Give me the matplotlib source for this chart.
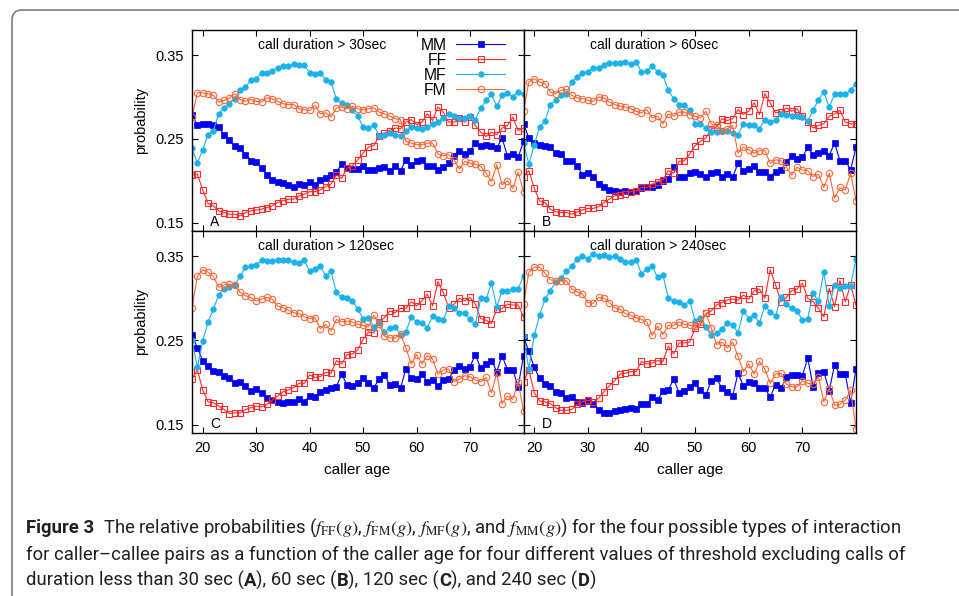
import matplotlib
matplotlib.use('Agg')
import matplotlib.pyplot as plt
from matplotlib.patches import FancyBboxPatch
from matplotlib.transforms import IdentityTransform

plt.rcParams['font.family'] = ['Liberation Sans', 'DejaVu Sans']
plt.rcParams['mathtext.fontset'] = 'stix'

# caller age (one point per year)
ages = list(range(18, 81))

# call duration > 30sec
mm_30 = [0.279, 0.266, 0.268, 0.268, 0.266, 0.264, 0.255, 0.249, 0.241, 0.239,
         0.231, 0.224, 0.222, 0.215, 0.207, 0.201, 0.199, 0.197, 0.195, 0.193,
         0.196, 0.195, 0.199, 0.195, 0.201, 0.203, 0.207, 0.210, 0.220, 0.215,
         0.214, 0.214, 0.218, 0.213, 0.213, 0.215, 0.217, 0.212, 0.218, 0.212,
         0.225, 0.219, 0.223, 0.225, 0.218, 0.218, 0.213, 0.217, 0.221, 0.230,
         0.236, 0.232, 0.236, 0.245, 0.241, 0.243, 0.242, 0.239, 0.251, 0.229,
         0.232, 0.228, 0.247]
ff_30 = [0.207, 0.208, 0.189, 0.173, 0.170, 0.164, 0.162, 0.160, 0.160, 0.158,
         0.162, 0.164, 0.165, 0.166, 0.168, 0.170, 0.174, 0.176, 0.178, 0.178,
         0.182, 0.184, 0.187, 0.187, 0.189, 0.193, 0.196, 0.207, 0.203, 0.215,
         0.218, 0.225, 0.233, 0.240, 0.242, 0.253, 0.257, 0.260, 0.263, 0.262,
         0.270, 0.273, 0.267, 0.270, 0.280, 0.272, 0.288, 0.282, 0.270, 0.270,
         0.275, 0.270, 0.276, 0.266, 0.258, 0.253, 0.258, 0.255, 0.263, 0.266,
         0.276, 0.260, 0.263]
mf_30 = [0.239, 0.221, 0.237, 0.255, 0.260, 0.280, 0.287, 0.292, 0.298, 0.308,
         0.312, 0.320, 0.322, 0.329, 0.329, 0.331, 0.335, 0.337, 0.337, 0.339,
         0.338, 0.338, 0.329, 0.328, 0.329, 0.320, 0.318, 0.298, 0.293, 0.290,
         0.284, 0.277, 0.264, 0.263, 0.266, 0.254, 0.255, 0.257, 0.255, 0.254,
         0.259, 0.264, 0.263, 0.262, 0.264, 0.268, 0.270, 0.275, 0.280, 0.277,
         0.275, 0.275, 0.277, 0.273, 0.287, 0.296, 0.303, 0.289, 0.302, 0.305,
         0.300, 0.306, 0.303]
fm_30 = [0.276, 0.305, 0.305, 0.304, 0.302, 0.294, 0.296, 0.299, 0.304, 0.297,
         0.295, 0.297, 0.295, 0.294, 0.299, 0.298, 0.295, 0.292, 0.291, 0.291,
         0.286, 0.285, 0.284, 0.290, 0.280, 0.281, 0.276, 0.287, 0.288, 0.286,
         0.289, 0.286, 0.285, 0.286, 0.287, 0.282, 0.280, 0.277, 0.274, 0.273,
         0.247, 0.245, 0.243, 0.243, 0.245, 0.245, 0.232, 0.230, 0.231, 0.225,
         0.214, 0.223, 0.221, 0.220, 0.217, 0.209, 0.199, 0.219, 0.195, 0.200,
         0.191, 0.210, 0.187]

# call duration > 60sec
mm_60 = [0.268, 0.251, 0.245, 0.243, 0.242, 0.240, 0.233, 0.232, 0.224, 0.224,
         0.218, 0.207, 0.209, 0.205, 0.196, 0.192, 0.189, 0.188, 0.187, 0.188,
         0.187, 0.188, 0.191, 0.193, 0.192, 0.195, 0.200, 0.202, 0.217, 0.205,
         0.205, 0.209, 0.211, 0.208, 0.205, 0.209, 0.211, 0.205, 0.208, 0.204,
         0.221, 0.212, 0.214, 0.218, 0.210, 0.210, 0.205, 0.211, 0.213, 0.222,
         0.230, 0.226, 0.228, 0.240, 0.231, 0.233, 0.235, 0.230, 0.245, 0.224,
         0.224, 0.213, 0.240]
ff_60 = [0.205, 0.212, 0.191, 0.176, 0.174, 0.166, 0.163, 0.162, 0.162, 0.160,
         0.163, 0.165, 0.167, 0.167, 0.169, 0.174, 0.178, 0.182, 0.183, 0.184,
         0.187, 0.188, 0.192, 0.192, 0.196, 0.199, 0.201, 0.212, 0.209, 0.223,
         0.224, 0.232, 0.242, 0.247, 0.251, 0.262, 0.264, 0.274, 0.272, 0.274,
         0.285, 0.279, 0.283, 0.293, 0.279, 0.304, 0.293, 0.281, 0.282, 0.287,
         0.283, 0.286, 0.277, 0.270, 0.263, 0.266, 0.268, 0.277, 0.280, 0.284,
         0.270, 0.268, 0.268]
mf_60 = [0.245, 0.220, 0.243, 0.264, 0.271, 0.291, 0.296, 0.302, 0.304, 0.318,
         0.324, 0.329, 0.330, 0.335, 0.335, 0.338, 0.341, 0.341, 0.341, 0.342,
         0.339, 0.342, 0.330, 0.331, 0.337, 0.330, 0.326, 0.308, 0.298, 0.291,
         0.291, 0.284, 0.268, 0.268, 0.263, 0.258, 0.258, 0.259, 0.260, 0.257,
         0.255, 0.268, 0.267, 0.266, 0.262, 0.273, 0.270, 0.272, 0.280, 0.279,
         0.277, 0.277, 0.276, 0.271, 0.284, 0.297, 0.306, 0.288, 0.303, 0.304,
         0.303, 0.308, 0.316]
fm_60 = [0.283, 0.318, 0.322, 0.318, 0.316, 0.306, 0.304, 0.308, 0.309, 0.302,
         0.299, 0.298, 0.296, 0.295, 0.300, 0.299, 0.294, 0.291, 0.289, 0.288,
         0.286, 0.283, 0.281, 0.285, 0.275, 0.277, 0.268, 0.280, 0.277, 0.282,
         0.282, 0.279, 0.277, 0.275, 0.283, 0.268, 0.266, 0.260, 0.262, 0.266,
         0.233, 0.240, 0.237, 0.233, 0.236, 0.236, 0.221, 0.225, 0.224, 0.216,
         0.207, 0.216, 0.213, 0.212, 0.205, 0.208, 0.192, 0.209, 0.179, 0.192,
         0.189, 0.209, 0.176]

# call duration > 120sec
mm_120 = [0.257, 0.241, 0.226, 0.220, 0.214, 0.212, 0.208, 0.205, 0.200, 0.201,
          0.196, 0.190, 0.192, 0.188, 0.182, 0.179, 0.177, 0.176, 0.177, 0.177,
          0.180, 0.177, 0.184, 0.183, 0.189, 0.191, 0.193, 0.195, 0.210, 0.197,
          0.196, 0.200, 0.205, 0.200, 0.194, 0.204, 0.209, 0.197, 0.198, 0.193,
          0.216, 0.205, 0.204, 0.210, 0.201, 0.203, 0.196, 0.203, 0.204, 0.215,
          0.220, 0.216, 0.219, 0.233, 0.217, 0.222, 0.226, 0.213, 0.232, 0.215,
          0.215, 0.195, 0.232]
ff_120 = [0.204, 0.215, 0.191, 0.177, 0.176, 0.172, 0.168, 0.163, 0.164, 0.164,
          0.168, 0.170, 0.172, 0.171, 0.174, 0.179, 0.184, 0.189, 0.191, 0.194,
          0.199, 0.199, 0.209, 0.206, 0.207, 0.212, 0.211, 0.226, 0.222, 0.233,
          0.234, 0.239, 0.251, 0.260, 0.259, 0.272, 0.277, 0.285, 0.283, 0.288,
          0.288, 0.296, 0.291, 0.297, 0.305, 0.291, 0.320, 0.307, 0.289, 0.293,
          0.300, 0.297, 0.301, 0.293, 0.276, 0.274, 0.270, 0.287, 0.288, 0.293,
          0.292, 0.292, 0.278]
mf_120 = [0.250, 0.218, 0.249, 0.272, 0.287, 0.304, 0.311, 0.314, 0.316, 0.326,
          0.337, 0.339, 0.340, 0.345, 0.344, 0.344, 0.346, 0.345, 0.345, 0.343,
          0.342, 0.345, 0.332, 0.335, 0.339, 0.326, 0.332, 0.307, 0.301, 0.300,
          0.297, 0.287, 0.276, 0.277, 0.266, 0.272, 0.260, 0.265, 0.266, 0.257,
          0.260, 0.278, 0.272, 0.271, 0.265, 0.279, 0.276, 0.274, 0.291, 0.289,
          0.282, 0.282, 0.275, 0.269, 0.300, 0.299, 0.318, 0.290, 0.309, 0.309,
          0.311, 0.311, 0.327]
fm_120 = [0.289, 0.326, 0.334, 0.331, 0.326, 0.313, 0.316, 0.317, 0.316, 0.307,
          0.303, 0.301, 0.297, 0.299, 0.301, 0.299, 0.291, 0.289, 0.286, 0.283,
          0.282, 0.278, 0.276, 0.277, 0.264, 0.269, 0.261, 0.275, 0.272, 0.273,
          0.272, 0.269, 0.268, 0.266, 0.280, 0.269, 0.255, 0.253, 0.253, 0.258,
          0.241, 0.222, 0.233, 0.222, 0.232, 0.228, 0.210, 0.215, 0.216, 0.201,
          0.204, 0.208, 0.207, 0.203, 0.201, 0.206, 0.188, 0.211, 0.175, 0.184,
          0.180, 0.201, 0.166]

# call duration > 240sec
mm_240 = [0.254, 0.237, 0.218, 0.205, 0.198, 0.196, 0.189, 0.187, 0.182, 0.183,
          0.177, 0.176, 0.178, 0.175, 0.167, 0.164, 0.164, 0.166, 0.167, 0.169,
          0.170, 0.168, 0.174, 0.174, 0.183, 0.179, 0.190, 0.191, 0.204, 0.188,
          0.190, 0.195, 0.199, 0.191, 0.185, 0.202, 0.205, 0.193, 0.189, 0.184,
          0.211, 0.196, 0.201, 0.199, 0.193, 0.193, 0.183, 0.197, 0.193, 0.206,
          0.209, 0.209, 0.208, 0.229, 0.195, 0.211, 0.213, 0.190, 0.221, 0.210,
          0.210, 0.176, 0.216]
ff_240 = [0.201, 0.215, 0.188, 0.178, 0.177, 0.175, 0.170, 0.167, 0.167, 0.168,
          0.174, 0.177, 0.179, 0.177, 0.181, 0.189, 0.196, 0.202, 0.210, 0.211,
          0.213, 0.213, 0.225, 0.222, 0.223, 0.226, 0.225, 0.243, 0.234, 0.247,
          0.247, 0.248, 0.265, 0.269, 0.282, 0.285, 0.292, 0.295, 0.298, 0.299,
          0.298, 0.304, 0.299, 0.309, 0.311, 0.300, 0.334, 0.316, 0.296, 0.301,
          0.309, 0.311, 0.318, 0.300, 0.296, 0.288, 0.278, 0.312, 0.290, 0.321,
          0.296, 0.316, 0.292]
mf_240 = [0.255, 0.216, 0.256, 0.280, 0.299, 0.309, 0.320, 0.324, 0.332, 0.338,
          0.347, 0.350, 0.347, 0.353, 0.350, 0.351, 0.349, 0.350, 0.347, 0.343,
          0.343, 0.346, 0.329, 0.335, 0.338, 0.325, 0.328, 0.300, 0.297, 0.296,
          0.292, 0.297, 0.273, 0.277, 0.266, 0.256, 0.259, 0.263, 0.271, 0.268,
          0.259, 0.285, 0.276, 0.280, 0.271, 0.291, 0.284, 0.279, 0.301, 0.293,
          0.288, 0.285, 0.274, 0.276, 0.306, 0.297, 0.331, 0.291, 0.316, 0.312,
          0.315, 0.315, 0.347]
fm_240 = [0.293, 0.331, 0.337, 0.337, 0.330, 0.322, 0.321, 0.321, 0.321, 0.311,
          0.308, 0.305, 0.295, 0.294, 0.301, 0.300, 0.295, 0.289, 0.287, 0.282,
          0.280, 0.277, 0.275, 0.272, 0.256, 0.267, 0.257, 0.268, 0.268, 0.272,
          0.269, 0.268, 0.267, 0.272, 0.282, 0.265, 0.245, 0.248, 0.241, 0.248,
          0.231, 0.213, 0.222, 0.210, 0.225, 0.216, 0.199, 0.210, 0.211, 0.198,
          0.195, 0.195, 0.202, 0.199, 0.198, 0.207, 0.177, 0.193, 0.173, 0.174,
          0.179, 0.191, 0.145]

series_names = ['MM', 'FF', 'MF', 'FM']
panel_letters = ['A', 'B', 'C', 'D']
panel_titles = ['call duration > 30sec', 'call duration > 60sec',
                'call duration > 120sec', 'call duration > 240sec']
panel_data = [
    [mm_30, ff_30, mf_30, fm_30],
    [mm_60, ff_60, mf_60, fm_60],
    [mm_120, ff_120, mf_120, fm_120],
    [mm_240, ff_240, mf_240, fm_240],
]

styles = {
    'MM': dict(color='#0000ee', marker='s', ms=4.6, mfc='#0000ee', mec='#0000ee', mew=0.5),
    'FF': dict(color='#ff2a2a', marker='s', ms=4.0, mfc='none', mec='#ff2a2a', mew=0.8),
    'MF': dict(color='#1ab2ea', marker='o', ms=4.0, mfc='#1ab2ea', mec='#1ab2ea', mew=0.5),
    'FM': dict(color='#ff6633', marker='o', ms=4.6, mfc='none', mec='#ff6633', mew=0.8),
}

W, H = 959, 596
fig = plt.figure(figsize=(W / 100, H / 100), dpi=100)

# axes boxes in pixels: left, top, right, bottom
boxes = [(192, 30, 523.5, 231), (523.5, 30, 856, 231),
         (192, 231, 523.5, 433), (523.5, 231, 856, 433)]

axes = []
for i, (l, t, r, b) in enumerate(boxes):
    ax = fig.add_axes([l / W, 1 - b / H, (r - l) / W, (b - t) / H])
    for name, vals in zip(series_names, panel_data[i]):
        ax.plot(ages, vals, lw=0.8, label=name, **styles[name])
    ax.set_xlim(18, 80)
    ax.set_ylim(0.14, 0.38)
    ax.set_xticks([20, 30, 40, 50, 60, 70])
    ax.set_yticks([0.15, 0.25, 0.35])
    ax.tick_params(direction='in', top=True, right=True, length=4.5, width=0.8,
                   labelsize=10.5, pad=6, colors='black')
    ax.tick_params(labelbottom=(i >= 2), labelleft=(i % 2 == 0))
    for sp in ax.spines.values():
        sp.set_linewidth(1.0)
    ax.text(0.2, 0.925, panel_titles[i], transform=ax.transAxes, va='center',
            ha='left', fontsize=10)
    ax.text(0.054, 0.01, panel_letters[i], transform=ax.transAxes, va='bottom',
            ha='left', fontsize=10)
    axes.append(ax)

axes[0].legend(loc='upper right', bbox_to_anchor=(0.944, 0.962), frameon=False,
               markerfirst=False, fontsize=11.3, handlelength=3.1,
               handletextpad=0.6, labelspacing=0.0, borderpad=0,
               borderaxespad=0)

# axis labels
fig.text(141 / W, 1 - 120 / H, 'probability', rotation=90, ha='center',
         va='center', fontsize=10.5)
fig.text(141 / W, 1 - 321 / H, 'probability', rotation=90, ha='center',
         va='center', fontsize=10.5)
fig.text(357 / W, 1 - 470 / H, 'caller age', ha='center', va='center', fontsize=11)
fig.text(690 / W, 1 - 470 / H, 'caller age', ha='center', va='center', fontsize=11)

# outer frame
frame = FancyBboxPatch((12, -30), 980, H - 10 + 30,
                       boxstyle='round,pad=0,rounding_size=10',
                       transform=IdentityTransform(), fill=False,
                       edgecolor='#7d7d7d', lw=1.2)
fig.add_artist(frame)

# caption
cap_font = ['Roboto', 'DejaVu Sans']
cap_color = '#231f20'
renderer = fig.canvas.get_renderer()
line2 = 'for caller\u2013callee pairs as a function of the caller age for four different values of threshold excluding calls of'
probe = fig.text(0, 0, line2, fontsize=12, family=cap_font)
cap_size = 12 * 874 / probe.get_window_extent(renderer).width
probe.remove()


def draw_pieces(x, y, pieces, gap=0):
    for txt, weight in pieces:
        t = fig.text(x / W, 1 - y / H, txt, fontsize=cap_size, fontweight=weight,
                     family=cap_font, color=cap_color, va='baseline', ha='left')
        x = t.get_window_extent(renderer).x1 + gap
    return x


x = draw_pieces(26, 533, [('Figure 3', 'bold')])
draw_pieces(x + 9, 533, [(r'The relative probabilities ($f_{\rm FF}(g)$, $f_{\rm FM}(g)$, '
                          r'$f_{\rm MF}(g)$, and $f_{\rm MM}(g)$) for the four possible '
                          r'types of interaction', 'normal')])
draw_pieces(26, 559.5, [(line2, 'normal')])
draw_pieces(26, 586, [('duration less than 30 sec (', 'normal'), ('A', 'bold'),
                      ('), 60 sec (', 'normal'), ('B', 'bold'),
                      ('), 120 sec (', 'normal'), ('C', 'bold'),
                      ('), and 240 sec (', 'normal'), ('D', 'bold'),
                      (')', 'normal')])

fig.savefig('out.png', dpi=100)
